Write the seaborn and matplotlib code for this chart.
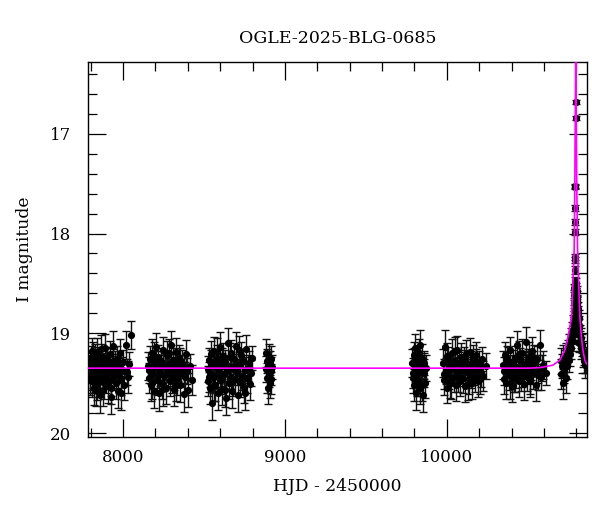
import numpy as np
import pandas as pd
import seaborn as sns
import matplotlib.pyplot as plt
from matplotlib.ticker import MultipleLocator

# --- photometry, one block per observing season (HJD - 2450000, I mag, error) ---
s1_t = [7795, 7799, 7803, 7806, 7810, 7814, 7818, 7821, 7825, 7829,
        7833, 7838, 7842, 7847, 7851, 7856, 7860, 7865, 7870, 7874,
        7879, 7884, 7889, 7893, 7898, 7903, 7908, 7913, 7918, 7923,
        7928, 7933, 7938, 7944, 7949, 7955, 7961, 7967, 7972, 7978,
        7984, 7990, 7996, 8003, 8009, 8016, 8022, 8029, 8036, 8047,
        7797, 7808, 7816, 7827, 7836, 7845, 7858, 7867, 7881, 7896,
        7911, 7926, 7941, 7963, 7987]
s1_mag = [19.31, 19.42, 19.25, 19.48, 19.36, 19.22, 19.55, 19.39, 19.28, 19.44,
          19.33, 19.51, 19.19, 19.37, 19.46, 19.29, 19.62, 19.35, 19.24, 19.41,
          19.57, 19.32, 19.15, 19.45, 19.38, 19.27, 19.53, 19.34, 19.21, 19.47,
          19.64, 19.36, 19.13, 19.43, 19.30, 19.50, 19.26, 19.40, 19.58, 19.33,
          19.20, 19.46, 19.37, 19.29, 19.52, 19.12, 19.39, 19.44, 19.31, 19.02,
          19.47, 19.18, 19.41, 19.23, 19.57, 19.34, 19.45, 19.16, 19.50, 19.26,
          19.40, 19.55, 19.28, 19.35, 19.60]
s1_err = [0.13, 0.15, 0.12, 0.16, 0.14, 0.13, 0.17, 0.12, 0.14, 0.15,
          0.11, 0.16, 0.14, 0.13, 0.15, 0.12, 0.18, 0.14, 0.13, 0.15,
          0.16, 0.12, 0.14, 0.15, 0.13, 0.12, 0.17, 0.14, 0.13, 0.16,
          0.17, 0.13, 0.15, 0.14, 0.12, 0.16, 0.13, 0.15, 0.17, 0.12,
          0.14, 0.16, 0.13, 0.12, 0.15, 0.14, 0.13, 0.16, 0.12, 0.14,
          0.15, 0.13, 0.14, 0.12, 0.16, 0.13, 0.15, 0.14, 0.16, 0.12,
          0.13, 0.16, 0.12, 0.14, 0.17]

s2_t = [8156, 8161, 8166, 8170, 8175, 8180, 8186, 8191, 8196, 8201,
        8207, 8212, 8218, 8223, 8229, 8235, 8240, 8246, 8252, 8258,
        8264, 8270, 8276, 8282, 8288, 8294, 8300, 8306, 8312, 8318,
        8324, 8330, 8336, 8342, 8348, 8354, 8360, 8367, 8374, 8381,
        8388, 8396, 8404, 8413, 8424,
        8163, 8178, 8193, 8215, 8232, 8249, 8267, 8285, 8303, 8327,
        8351, 8378]
s2_mag = [19.33, 19.45, 19.26, 19.52, 19.38, 19.20, 19.41, 19.58, 19.30, 19.14,
          19.47, 19.35, 19.24, 19.60, 19.39, 19.28, 19.50, 19.17, 19.43, 19.34,
          19.55, 19.22, 19.40, 19.31, 19.48, 19.12, 19.37, 19.27, 19.56, 19.42,
          19.33, 19.19, 19.46, 19.36, 19.25, 19.52, 19.40, 19.30, 19.61, 19.44,
          19.21, 19.38, 19.57, 19.33, 19.47,
          19.37, 19.50, 19.23, 19.42, 19.30, 19.56, 19.34, 19.20, 19.45, 19.52,
          19.28, 19.36]
s2_err = [0.14, 0.15, 0.13, 0.16, 0.13, 0.14, 0.15, 0.17, 0.12, 0.14,
          0.15, 0.13, 0.12, 0.18, 0.14, 0.13, 0.16, 0.13, 0.15, 0.12,
          0.16, 0.14, 0.13, 0.12, 0.15, 0.14, 0.13, 0.12, 0.17, 0.15,
          0.13, 0.14, 0.16, 0.12, 0.13, 0.17, 0.14, 0.13, 0.18, 0.15,
          0.14, 0.13, 0.17, 0.12, 0.15,
          0.13, 0.16, 0.14, 0.13, 0.12, 0.17, 0.13, 0.14, 0.15, 0.16,
          0.13, 0.14]

s3_t = [8522, 8526, 8531, 8535, 8540, 8544, 8549, 8553, 8558, 8563,
        8568, 8573, 8578, 8583, 8588, 8593, 8598, 8603, 8609, 8614,
        8619, 8625, 8630, 8636, 8641, 8647, 8652, 8658, 8664, 8669,
        8675, 8681, 8687, 8693, 8699, 8705, 8711, 8717, 8723, 8729,
        8735, 8741, 8748, 8754, 8761, 8768, 8775, 8782, 8788, 8795,
        8529, 8546, 8561, 8580, 8596, 8612, 8627, 8644, 8661, 8678,
        8696, 8714, 8732, 8751, 8771]
s3_mag = [19.36, 19.48, 19.27, 19.55, 19.40, 19.21, 19.70, 19.33, 19.45, 19.18,
          19.52, 19.30, 19.42, 19.25, 19.60, 19.37, 19.14, 19.47, 19.32, 19.56,
          19.23, 19.41, 19.29, 19.65, 19.38, 19.10, 19.50, 19.34, 19.44, 19.20,
          19.58, 19.35, 19.26, 19.46, 19.13, 19.39, 19.62, 19.31, 19.49, 19.22,
          19.43, 19.28, 19.54, 19.37, 19.16, 19.45, 19.30, 19.51, 19.40, 19.25,
          19.44, 19.30, 19.52, 19.19, 19.41, 19.27, 19.57, 19.36, 19.24, 19.48,
          19.33, 19.17, 19.46, 19.60, 19.35]
s3_err = [0.13, 0.15, 0.12, 0.16, 0.14, 0.13, 0.17, 0.12, 0.15, 0.14,
          0.16, 0.12, 0.14, 0.13, 0.17, 0.13, 0.15, 0.14, 0.12, 0.16,
          0.13, 0.14, 0.12, 0.17, 0.13, 0.15, 0.16, 0.12, 0.14, 0.13,
          0.17, 0.12, 0.13, 0.15, 0.14, 0.13, 0.17, 0.12, 0.15, 0.13,
          0.14, 0.12, 0.16, 0.13, 0.14, 0.15, 0.12, 0.16, 0.13, 0.12,
          0.15, 0.13, 0.16, 0.14, 0.13, 0.12, 0.17, 0.13, 0.14, 0.15,
          0.12, 0.14, 0.15, 0.17, 0.13]

s4_t = [8882, 8885, 8888, 8891, 8894, 8897, 8900, 8903, 8906, 8909,
        8912, 8915, 8917, 8919]
s4_mag = [19.20, 19.36, 19.28, 19.45, 19.32, 19.55, 19.24, 19.40, 19.30, 19.50,
          19.26, 19.38, 19.46, 19.34]
s4_err = [0.14, 0.13, 0.12, 0.15, 0.13, 0.16, 0.13, 0.14, 0.12, 0.15,
          0.13, 0.14, 0.15, 0.12]

s5_t = [9786, 9790, 9794, 9798, 9802, 9806, 9810, 9815, 9819, 9823,
        9828, 9832, 9837, 9841, 9846, 9851, 9856, 9861, 9866, 9871,
        9788, 9800, 9813, 9826, 9844, 9859]
s5_mag = [19.30, 19.45, 19.22, 19.52, 19.36, 19.15, 19.60, 19.41, 19.27, 19.48,
          19.33, 19.12, 19.55, 19.38, 19.25, 19.62, 19.40, 19.30, 19.50, 19.35,
          19.40, 19.28, 19.47, 19.20, 19.52, 19.33]
s5_err = [0.14, 0.15, 0.13, 0.16, 0.13, 0.14, 0.17, 0.14, 0.12, 0.15,
          0.13, 0.15, 0.16, 0.13, 0.14, 0.17, 0.14, 0.12, 0.15, 0.13,
          0.15, 0.13, 0.16, 0.14, 0.16, 0.13]

s6_t = [9978, 9984, 9990, 9996, 10002, 10008, 10014, 10020, 10026, 10032,
        10038, 10044, 10050, 10056, 10062, 10068, 10074, 10080, 10086, 10092,
        10098, 10104, 10110, 10116, 10122, 10128, 10134, 10140, 10146, 10152,
        10158, 10164, 10170, 10176, 10182, 10188, 10194, 10200, 10208, 10216,
        10226, 10244,
        9981, 9999, 10017, 10035, 10053, 10071, 10089, 10107, 10131, 10155,
        10179, 10204]
s6_mag = [19.30, 19.47, 19.14, 19.38, 19.55, 19.26, 19.42, 19.33, 19.50, 19.20,
          19.36, 19.44, 19.28, 19.52, 19.17, 19.40, 19.31, 19.48, 19.24, 19.37,
          19.45, 19.29, 19.53, 19.21, 19.39, 19.34, 19.46, 19.19, 19.42, 19.30,
          19.50, 19.25, 19.38, 19.44, 19.22, 19.36, 19.48, 19.31, 19.40, 19.26,
          19.43, 19.33,
          19.41, 19.23, 19.49, 19.33, 19.18, 19.44, 19.35, 19.26, 19.51, 19.38,
          19.29, 19.46]
s6_err = [0.14, 0.15, 0.17, 0.13, 0.15, 0.12, 0.14, 0.13, 0.16, 0.14,
          0.12, 0.15, 0.13, 0.16, 0.14, 0.13, 0.12, 0.15, 0.14, 0.13,
          0.15, 0.12, 0.16, 0.14, 0.13, 0.12, 0.15, 0.14, 0.13, 0.12,
          0.16, 0.13, 0.14, 0.15, 0.13, 0.12, 0.16, 0.13, 0.14, 0.12,
          0.15, 0.13,
          0.15, 0.13, 0.16, 0.12, 0.14, 0.15, 0.13, 0.12, 0.16, 0.14,
          0.13, 0.15]

s7_t = [10348, 10354, 10360, 10366, 10372, 10378, 10384, 10390, 10396, 10402,
        10408, 10414, 10420, 10426, 10432, 10438, 10444, 10450, 10456, 10462,
        10468, 10474, 10480, 10486, 10492, 10498, 10504, 10510, 10516, 10522,
        10528, 10534, 10541, 10548, 10556, 10564, 10572, 10582, 10594, 10610,
        10351, 10369, 10387, 10405, 10423, 10447, 10465, 10489, 10513, 10537,
        10560, 10587]
s7_mag = [19.32, 19.46, 19.22, 19.50, 19.36, 19.28, 19.42, 19.17, 19.38, 19.53,
          19.30, 19.45, 19.25, 19.40, 19.12, 19.35, 19.48, 19.27, 19.43, 19.20,
          19.37, 19.51, 19.31, 19.09, 19.44, 19.29, 19.39, 19.24, 19.47, 19.34,
          19.18, 19.41, 19.30, 19.52, 19.26, 19.36, 19.12, 19.44, 19.32, 19.40,
          19.38, 19.26, 19.50, 19.34, 19.44, 19.21, 19.40, 19.30, 19.48, 19.25,
          19.42, 19.35]
s7_err = [0.14, 0.15, 0.13, 0.16, 0.13, 0.14, 0.15, 0.13, 0.12, 0.16,
          0.13, 0.14, 0.12, 0.15, 0.14, 0.13, 0.16, 0.12, 0.15, 0.14,
          0.13, 0.16, 0.12, 0.15, 0.14, 0.13, 0.12, 0.15, 0.14, 0.13,
          0.14, 0.15, 0.12, 0.16, 0.13, 0.14, 0.15, 0.13, 0.14, 0.12,
          0.14, 0.13, 0.16, 0.12, 0.15, 0.13, 0.14, 0.12, 0.16, 0.13,
          0.15, 0.13]

# 2025 season: rise, peak and decline
s8_t = [10702, 10706, 10711, 10716, 10720, 10724, 10729, 10733, 10738, 10742,
        10747, 10751, 10755, 10760, 10764, 10768, 10772, 10776, 10779, 10782,
        10786, 10787, 10788, 10789, 10790, 10791, 10792, 10792, 10793, 10793,
        10794, 10794, 10795, 10795,
        10799, 10801, 10803, 10805, 10807, 10809, 10811, 10813, 10815, 10818,
        10821, 10824, 10827, 10831, 10835, 10839, 10844, 10849, 10854, 10859,
        10780, 10783, 10784, 10785, 10797, 10798, 10800, 10802, 10804, 10806,
        10810, 10816]
s8_mag = [19.28, 19.41, 19.33, 19.50, 19.24, 19.36, 19.30, 19.45, 19.22, 19.33,
          19.18, 19.27, 19.12, 19.21, 19.05, 19.15, 18.98, 19.08, 18.90, 18.95,
          18.70, 18.62, 18.55, 18.48, 18.37, 18.27, 18.24, 17.98, 17.88, 17.74,
          17.53, 17.52, 16.84, 16.68,
          18.55, 18.64, 18.72, 18.68, 18.80, 18.76, 18.88, 18.85, 18.95, 18.92,
          19.02, 19.08, 19.05, 19.15, 19.12, 19.22, 19.28, 19.20, 19.32, 19.27,
          19.02, 18.85, 18.92, 18.78, 18.60, 18.50, 18.74, 18.58, 18.90, 18.70,
          19.00, 19.10]
s8_err = [0.13, 0.15, 0.12, 0.16, 0.12, 0.14, 0.13, 0.15, 0.12, 0.13,
          0.11, 0.12, 0.11, 0.12, 0.10, 0.11, 0.09, 0.10, 0.08, 0.09,
          0.05, 0.05, 0.04, 0.04, 0.04, 0.03, 0.03, 0.03, 0.03, 0.03,
          0.02, 0.02, 0.02, 0.02,
          0.05, 0.06, 0.06, 0.06, 0.07, 0.07, 0.08, 0.08, 0.09, 0.09,
          0.10, 0.10, 0.10, 0.11, 0.11, 0.12, 0.12, 0.12, 0.13, 0.13,
          0.09, 0.07, 0.08, 0.06, 0.05, 0.05, 0.06, 0.05, 0.07, 0.06,
          0.08, 0.09]

# model light curve
model_t = [7784, 9000, 10000, 10500, 10574, 10654, 10698, 10728, 10747, 10770,
           10786, 10790, 10793, 10796, 10799, 10802, 10807, 10821, 10831, 10840,
           10852, 10864]
model_mag = [19.35, 19.35, 19.35, 19.35, 19.345, 19.32, 19.27, 19.17, 19.04, 18.84,
             18.17, 17.5, 16.8, 16.0, 16.8, 17.5, 18.17, 18.84, 19.04, 19.17,
             19.27, 19.31]

phot = pd.DataFrame({
    'hjd': s1_t + s2_t + s3_t + s4_t + s5_t + s6_t + s7_t + s8_t,
    'mag': s1_mag + s2_mag + s3_mag + s4_mag + s5_mag + s6_mag + s7_mag + s8_mag,
    'err': s1_err + s2_err + s3_err + s4_err + s5_err + s6_err + s7_err + s8_err,
})
model = pd.DataFrame({'hjd': model_t, 'mag': model_mag})

sns.set_theme(style="ticks")
plt.rcParams['font.family'] = ['DejaVu Serif']
for key in ['text.color', 'axes.labelcolor', 'xtick.color', 'ytick.color']:
    plt.rcParams[key] = 'black'

fig = plt.figure(figsize=(6.0, 5.12), dpi=100)
ax = fig.add_axes([0.1467, 0.1465, 0.8313, 0.7325])

ax.errorbar(phot['hjd'], phot['mag'], yerr=phot['err'], fmt='none',
            ecolor='#111111', elinewidth=1.0, capsize=2.6, capthick=1.0, zorder=2)
sns.scatterplot(data=phot, x='hjd', y='mag', color='black', s=27,
                linewidth=0, ax=ax, zorder=3)
sns.lineplot(data=model, x='hjd', y='mag', color='#ff00ff', linewidth=1.2,
             estimator=None, ax=ax, zorder=4)

ax.set_xlim(7784, 10864)
ax.set_ylim(20.04, 16.28)
ax.xaxis.set_major_locator(MultipleLocator(1000))
ax.xaxis.set_minor_locator(MultipleLocator(200))
ax.yaxis.set_major_locator(MultipleLocator(1))
ax.yaxis.set_minor_locator(MultipleLocator(0.2))
ax.tick_params(which='both', direction='in', top=True, right=True,
               color='black', width=0.9, labelsize=12)
ax.tick_params(which='major', length=13)
ax.tick_params(which='minor', length=6.5)
ax.tick_params(axis='x', pad=9)
ax.tick_params(axis='y', pad=12)
for s in ax.spines.values():
    s.set_linewidth(1.0)
    s.set_color('black')

ax.set_xlabel('HJD - 2450000', fontsize=12.3, labelpad=8)
ax.set_ylabel('I magnitude', fontsize=12.3, labelpad=12)
ax.set_title('OGLE-2025-BLG-0685', fontsize=12.5, pad=14)

fig.savefig('out.png', dpi=100)
